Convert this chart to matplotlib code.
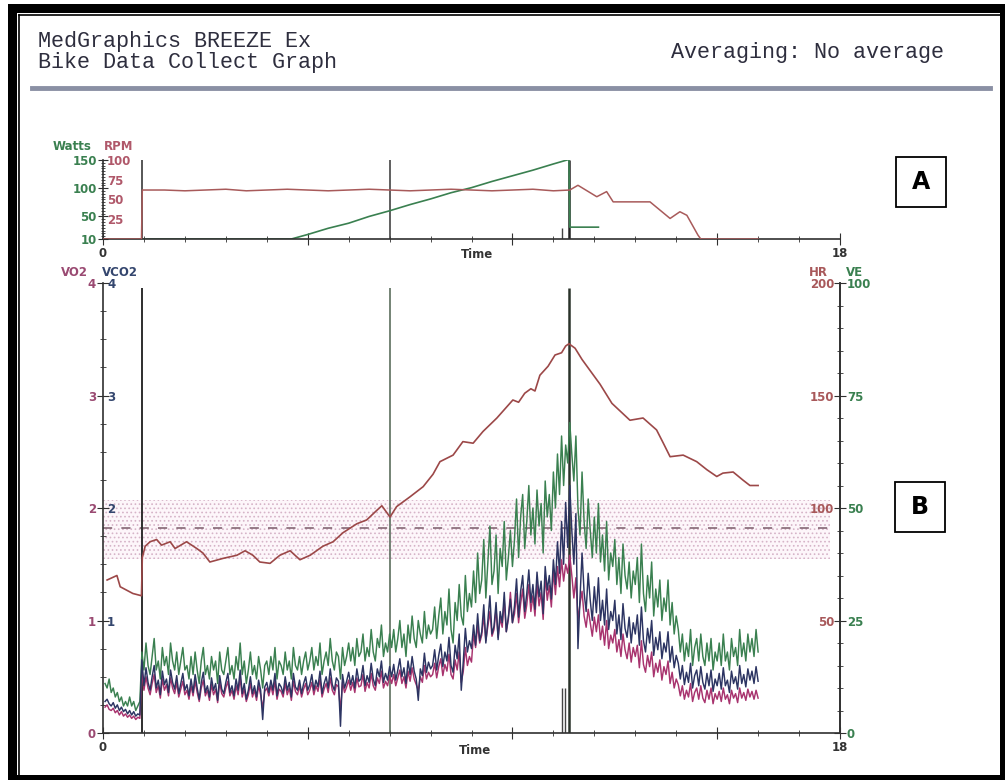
import numpy as np
import matplotlib.pyplot as plt
from matplotlib.patches import Rectangle
from matplotlib.lines import Line2D
from matplotlib.ticker import MultipleLocator

# ---- data ----
# breath-by-breath values, sampled every 0.05 min from 0.05 to 16.0
t_breath = np.round(np.arange(1, 321) * 0.05, 2)

# VE, L/min
ve = [11, 10, 12, 9, 10, 8, 9, 7, 8, 6, 7, 6, 8, 6, 7, 5, 6, 7,
      18, 14, 20, 15, 13, 17, 21, 14, 16, 12, 19, 15, 17, 13, 20, 16, 14, 18, 13, 16, 19, 14,
      15, 12, 17, 13, 18, 14, 11, 16, 19, 13, 15, 12, 17, 14, 16, 11, 18, 14, 13, 16,
      19, 13, 15, 12, 17, 14, 20, 13, 16, 11, 14, 18, 13, 15, 12, 17, 14, 10, 15, 16,
      13, 17, 14, 19, 12, 16, 15, 13, 18, 14, 16, 12, 19, 15, 14, 17, 13, 16, 18, 14,
      16, 19, 14, 17, 15, 20, 13, 16, 18, 15, 21, 16, 14, 18, 17, 12, 19, 15, 17, 20,
      16, 19, 15, 21, 17, 18, 22, 16, 19, 17, 23, 18, 16, 21, 19, 24, 17, 20, 18, 22,
      19, 23, 18, 21, 25, 19, 22, 17, 24, 20, 26, 21, 19, 25, 22, 20, 27, 21, 24, 22,
      23, 28, 21, 26, 30, 22, 27, 24, 32, 23, 20, 29, 25, 33, 26, 24, 35, 27, 31, 28,
      36, 29, 40, 31, 34, 43, 30, 38, 46, 33, 36, 44, 31, 41, 37, 47, 34, 39, 45, 37,
      43, 52, 39, 48, 53, 41, 47, 55, 44, 50, 42, 54, 46, 51, 40, 56, 48, 53, 45, 58,
      50, 62, 53, 66, 55, 64, 60, 69,
      62, 56, 66, 50, 44, 58, 47, 41, 52, 45, 39, 48,
      40, 51, 38, 44, 36, 47, 34, 40, 37, 43, 33, 39, 31, 42, 35, 32, 38, 30, 36, 33,
      39, 29, 42, 31, 27, 35, 30, 38, 26, 32, 28, 34, 25, 30, 27, 34, 24, 29, 22, 26,
      23, 18, 22, 16, 20, 17, 23, 15, 19, 21, 16, 22, 17, 15, 20, 16, 21, 14, 18, 16,
      20, 15, 22, 16, 18, 14, 21, 17, 19, 15, 23, 17, 20, 16, 22, 18, 21, 17, 23, 18]

# VCO2, mL/min
vco2_ml = [280, 300, 260, 240, 270, 220, 250, 200, 230, 190, 210, 170, 200, 160, 190, 150, 170, 160,
           650, 420, 580, 450, 380, 500, 600, 400, 470, 340, 550, 430, 480, 360, 560, 450, 390, 510, 350, 440, 530, 380,
           430, 330, 480, 360, 520, 400, 300, 450, 540, 360, 420, 320, 490, 380, 440, 290, 510, 390, 350, 450,
           530, 360, 420, 330, 480, 380, 560, 350, 440, 300, 380, 500, 350, 420, 320, 470, 380, 120, 410, 450,
           360, 470, 380, 530, 330, 440, 410, 350, 500, 380, 450, 320, 530, 410, 380, 470, 350, 440, 500, 380,
           430, 520, 380, 470, 410, 550, 350, 440, 500, 400, 570, 430, 380, 490, 460, 60, 520, 400, 460, 540,
           430, 510, 400, 570, 460, 480, 600, 420, 510, 450, 620, 480, 420, 570, 500, 640, 450, 530, 470, 590,
           500, 610, 470, 560, 660, 500, 580, 440, 640, 520, 680, 550, 480, 290, 570, 510, 710, 540, 630, 570,
           600, 740, 560, 690, 790, 590, 720, 640, 850, 600, 540, 780, 660, 880, 380, 640, 930, 720, 820, 750,
           960, 780, 1060, 820, 900, 1140, 800, 1000, 1220, 880, 950, 1160, 830, 1080, 980, 1250, 900, 1030, 1190, 980,
           1130, 1370, 1030, 1260, 1400, 1080, 1240, 1450, 1160, 1320, 1100, 1430, 1210, 1350, 1060, 1480, 1270, 1400, 1190, 1540,
           1320, 1700, 1420, 1880, 1500, 2050, 1650, 2200,
           1800, 1500, 1950, 750, 1200, 1600, 1250, 1080, 1420, 1180, 1000, 1300,
           1070, 1380, 1000, 1180, 960, 1280, 920, 1080, 1000, 1180, 880, 1050, 830, 1150, 930, 850, 1030, 800, 980, 880,
           1050, 780, 1120, 820, 720, 930, 800, 1000, 690, 850, 740, 900, 660, 800, 720, 900, 630, 770, 580, 690,
           620, 480, 600, 430, 540, 450, 620, 400, 510, 560, 420, 590, 450, 390, 530, 420, 560, 370, 480, 420,
           530, 390, 580, 420, 470, 360, 550, 440, 500, 390, 600, 440, 520, 410, 570, 470, 550, 440, 590, 460]

# VO2, mL/min
vo2_ml = [230, 250, 210, 200, 220, 180, 200, 160, 190, 150, 170, 140, 160, 130, 150, 120, 140, 130,
          560, 380, 500, 400, 340, 440, 520, 360, 420, 310, 480, 380, 430, 330, 490, 400, 350, 450, 320, 390, 460, 340,
          380, 300, 420, 330, 460, 360, 280, 400, 470, 330, 380, 290, 430, 340, 390, 270, 450, 350, 320, 400,
          460, 330, 380, 300, 420, 340, 490, 320, 390, 280, 340, 440, 320, 380, 290, 420, 340, 220, 370, 400,
          330, 420, 340, 460, 300, 390, 370, 320, 440, 340, 400, 290, 460, 370, 340, 420, 320, 390, 440, 340,
          380, 450, 340, 420, 370, 480, 320, 390, 440, 360, 490, 380, 340, 430, 410, 200, 450, 360, 410, 470,
          380, 450, 360, 490, 410, 420, 520, 370, 450, 400, 530, 420, 380, 490, 440, 550, 400, 460, 420, 510,
          440, 520, 420, 490, 560, 440, 500, 400, 550, 460, 580, 480, 430, 380, 500, 450, 600, 480, 540, 500,
          520, 620, 490, 590, 660, 510, 610, 550, 700, 520, 480, 650, 560, 720, 450, 550, 760, 600, 680, 630,
          880, 760, 960, 800, 870, 1040, 820, 950, 1080, 860, 920, 1100, 850, 1020, 940, 1180, 900, 1010, 1250, 980,
          1060, 1240, 980, 1150, 1280, 1020, 1140, 1320, 1080, 1220, 1040, 1330, 1130, 1250, 1010, 1400, 1180, 1310, 1120, 1440,
          1230, 1480, 1300, 1540, 1350, 1500, 1420, 1580,
          1400, 1200, 1380, 1000, 1150, 1260, 1040, 940, 1100, 980, 860, 1030,
          900, 1050, 830, 950, 780, 1000, 750, 870, 800, 920, 720, 830, 680, 880, 740, 660, 800, 630, 760, 680,
          780, 580, 820, 610, 540, 690, 590, 720, 500, 620, 540, 650, 470, 590, 520, 640, 440, 540, 400, 480,
          430, 330, 420, 300, 380, 320, 440, 280, 360, 400, 300, 420, 310, 270, 380, 300, 400, 260, 350, 300,
          370, 280, 400, 300, 340, 260, 380, 310, 350, 270, 400, 310, 360, 290, 390, 320, 370, 300, 380, 310]

hr_t = [0.10, 0.34, 0.42, 0.73, 0.94, 0.96, 1.03, 1.15, 1.31, 1.43, 1.64, 1.76,
        2.04, 2.29, 2.44, 2.61, 2.93, 3.27, 3.47, 3.66, 3.83, 4.08, 4.32, 4.57,
        4.81, 5.06, 5.37, 5.62, 5.86, 6.20, 6.44, 6.69, 6.81, 7.01, 7.17, 7.50,
        7.82, 8.06, 8.23, 8.55, 8.79, 9.04, 9.28, 9.62, 10.01, 10.15, 10.30, 10.45,
        10.55, 10.67, 10.87, 11.04, 11.20, 11.30, 11.38, 11.53, 11.70, 11.90, 12.14,
        12.43, 12.87, 13.19, 13.52, 13.68, 13.85, 14.17, 14.50, 14.75, 14.99, 15.14,
        15.39, 15.63, 15.80, 16.00]
hr = [68, 70, 65, 62, 61, 78, 83, 85, 86, 83.5, 85, 82,
      85, 82, 80, 76, 77.6, 79, 81, 79, 76, 75.4, 79, 81,
      77, 79, 83, 85, 89, 93, 94.7, 99, 101, 96, 100.6, 105,
      109.5, 115, 120.6, 123.5, 129.5, 128.8, 134, 140, 148, 147, 151, 153,
      152, 159, 163, 168, 169, 172, 173, 171, 166, 161, 155,
      146.5, 139, 140, 134.7, 129, 122.8, 123.5, 120.6, 117, 114, 115.5,
      116, 112.4, 110, 110]

watts_t = [0.0, 4.6, 5.0, 5.5, 6.0, 6.5, 7.0, 7.5, 8.0, 8.5, 9.0, 9.5, 10.0,
           10.5, 11.0, 11.38, 11.40, 12.10]
watts = [10, 10, 18, 29, 38, 50, 60, 71, 81, 92, 101, 112, 122, 132, 143, 151, 31, 31]

rpm_t = [0.0, 0.94, 0.96, 1.5, 2.0, 2.5, 3.0, 3.5, 4.0, 4.5, 5.0, 5.5, 6.0, 6.5,
         7.0, 7.5, 8.0, 8.5, 9.0, 9.5, 10.0, 10.5, 11.0, 11.4, 11.6, 12.06, 12.3,
         12.46, 13.36, 13.5, 13.85, 14.09, 14.26, 14.53, 14.6, 16.0]
rpm = [0, 0, 62, 62, 61, 62, 63, 61, 62, 63, 62, 61, 62, 63,
       62, 61, 62, 63, 62, 61, 62, 63, 61, 62, 68, 53.5, 60,
       47, 47, 41, 26, 34.5, 30, 5, 0, 0]

marker_times = [0.95, 7.0, 11.38]
spike_times = [11.21, 11.28]
band_lo, band_hi, band_mid = 1.55, 2.07, 1.82

vco2 = np.array(vco2_ml) / 1000
vo2 = np.array(vo2_ml) / 1000

# ---- colours ----
c_green = '#3a8050'
c_hr = '#9c4848'
c_co2 = '#2c3462'
c_o2 = '#a8336e'
c_axis = '#303030'

plt.rcParams['font.family'] = 'DejaVu Sans'
plt.rcParams['font.weight'] = 'bold'
plt.rcParams['hatch.linewidth'] = 0.7

W, H = 1005, 780
fig = plt.figure(figsize=(W / 100, H / 100), dpi=100)


def fx(px):
    return px / W


def fy(py):
    return 1 - py / H


# frame around the page (kept behind the axes)
fig.add_artist(Rectangle((fx(8), 0), 1 - fx(8), fy(4), color='black', lw=0, zorder=-3))
fig.add_artist(Rectangle((fx(17), fy(775)), fx(1000) - fx(17), fy(13) - fy(775),
                         color='white', lw=0, zorder=-2))
fig.add_artist(Line2D([fx(19), fx(19)], [fy(15), fy(775)], color='black', lw=1.2, zorder=-1))
fig.add_artist(Line2D([fx(19), fx(1000)], [fy(15), fy(15)], color='black', lw=1.2, zorder=-1))

# header
mono = dict(family='Liberation Mono', color='#2e2e3e', weight='normal', size=15.7)
fig.text(fx(38), fy(47), 'MedGraphics BREEZE Ex', va='baseline', **mono)
fig.text(fx(38), fy(68), 'Bike Data Collect Graph', va='baseline', **mono)
fig.text(fx(944), fy(58), 'Averaging: No average', va='baseline', ha='right', **mono)
fig.add_artist(Line2D([fx(32), fx(990)], [fy(88), fy(88)], color='#8a90a4', lw=3.5))

x0, x1 = fx(103), fx(840)

# ---- panel A: Watts / RPM ----
ax_w = fig.add_axes([x0, fy(239), x1 - x0, fy(160) - fy(239)])
ax_w.set_xlim(0, 18)
ax_w.set_ylim(10, 150)
for s in ['top', 'right']:
    ax_w.spines[s].set_visible(False)
ax_w.vlines(marker_times, 10, 150, colors=['#3a3a3a', '#444', '#222'], lw=[1.2, 1.2, 1.8])
ax_w.vlines([spike_times[0]], 10, 29, colors='#444', lw=1)
ax_w.plot(watts_t, watts, color=c_green, lw=1.2)
ax_w.set_yticks([10, 50, 100, 150])
ax_w.yaxis.set_minor_locator(MultipleLocator(5))
ax_w.tick_params(axis='y', which='major', direction='inout', length=7,
                 labelsize=8.5, labelcolor=c_green, color=c_axis, pad=1)
ax_w.tick_params(axis='y', which='minor', direction='inout', length=3, color=c_axis)

ax_r = ax_w.twinx()
ax_r.set_ylim(0, 100)
for s in ['top', 'left', 'bottom']:
    ax_r.spines[s].set_visible(False)
ax_r.spines['right'].set_position(('axes', 0))
ax_r.spines['right'].set_visible(False)
ax_r.plot(rpm_t, rpm, color='#a85a5a', lw=1.1)
ax_r.set_yticks([25, 50, 75, 100])
ax_r.tick_params(axis='y', length=0, labelsize=8.5, labelcolor='#b0586a', pad=3)

# ---- panel B: gas exchange / HR ----
ax_b = fig.add_axes([x0, fy(733), x1 - x0, fy(283) - fy(733)])
ax_b.set_xlim(0, 18)
ax_b.set_ylim(0, 4)
ax_b.spines['top'].set_visible(False)
ax_b.axhspan(band_lo, band_hi, xmin=0, xmax=17.75 / 18, facecolor='#fdf6fa',
             edgecolor='#d6b4c8', hatch='....', lw=0)
ax_b.hlines(band_mid, 0, 17.75, colors='#7a5a68', lw=1.1, linestyles=(0, (6, 6)))
ax_b.vlines(marker_times, 0, 3.96, colors=['#2e2e2e', '#5c6e5e', '#2a332a'], lw=[1.4, 1.2, 1.8])
ax_b.vlines(spike_times, 0, 0.4, colors='#444', lw=1)
ax_b.plot(t_breath, vo2, color=c_o2, lw=1.05)
ax_b.set_yticks([0, 1, 2, 3, 4])
ax_b.yaxis.set_minor_locator(MultipleLocator(0.25))
ax_b.tick_params(axis='y', which='major', direction='inout', length=8,
                 labelsize=8.5, labelcolor='#9a4a72', color=c_axis, pad=1)
ax_b.tick_params(axis='y', which='minor', direction='inout', length=4, color=c_axis)

ax_ve = ax_b.twinx()
ax_ve.set_ylim(0, 100)
for s in ['top', 'left', 'bottom']:
    ax_ve.spines[s].set_visible(False)
ax_ve.plot(t_breath, ve, color=c_green, lw=1.05)
ax_ve.set_yticks([0, 25, 50, 75, 100])
ax_ve.yaxis.set_minor_locator(MultipleLocator(5))
ax_ve.tick_params(axis='y', which='major', direction='inout', length=8,
                  labelsize=8.5, labelcolor=c_green, color=c_axis, pad=1)
ax_ve.tick_params(axis='y', which='minor', direction='inout', length=4, color=c_axis)

ax_hr = ax_b.twinx()
ax_hr.set_ylim(0, 200)
for s in ['top', 'right', 'bottom', 'left']:
    ax_hr.spines[s].set_visible(False)
ax_hr.yaxis.tick_left()
ax_hr.spines['left'].set_position(('axes', 1))
ax_hr.plot(hr_t, hr, color=c_hr, lw=1.2)
ax_hr.set_yticks([50, 100, 150, 200])
ax_hr.tick_params(axis='y', length=0, labelsize=8.5, labelcolor='#a8585a', pad=4)

ax_c = ax_b.twinx()
ax_c.set_ylim(0, 4)
for s in ['top', 'left', 'bottom', 'right']:
    ax_c.spines[s].set_visible(False)
ax_c.spines['right'].set_position(('axes', 0))
ax_c.plot(t_breath, vco2, color=c_co2, lw=1.05)
ax_c.set_yticks([1, 2, 3, 4])
ax_c.tick_params(axis='y', length=0, labelsize=8.5, labelcolor='#34466e', pad=3)

# shared x-axis styling
for ax in [ax_w, ax_b]:
    ax.set_xticks([0, 5, 10, 15, 18])
    ax.set_xticklabels(['0', '', '', '', '18'])
    ax.xaxis.set_minor_locator(MultipleLocator(1))
    ax.tick_params(axis='x', which='major', direction='inout', length=8,
                   labelsize=8.5, color=c_axis, labelcolor='#333', pad=2)
    ax.tick_params(axis='x', which='minor', direction='inout', length=4, color=c_axis)
    for s in ['left', 'bottom', 'right']:
        ax.spines[s].set_color(c_axis)
        ax.spines[s].set_linewidth(1.2)
ax_ve.spines['right'].set_color(c_axis)
ax_ve.spines['right'].set_linewidth(1.2)

# axis titles
small = dict(size=8.5, weight='bold')
fig.text(fx(92), fy(147), 'Watts', ha='right', va='center', color=c_green, **small)
fig.text(fx(104), fy(147), 'RPM', ha='left', va='center', color='#b0586a', **small)
fig.text(fx(477), fy(254), 'Time', ha='center', va='center', color='#333', **small)
fig.text(fx(88), fy(272), 'VO2', ha='right', va='center', color='#9a4a72', **small)
fig.text(fx(102), fy(272), 'VCO2', ha='left', va='center', color='#34466e', **small)
fig.text(fx(828), fy(273), 'HR', ha='right', va='center', color='#a8585a', **small)
fig.text(fx(846), fy(273), 'VE', ha='left', va='center', color=c_green, **small)
fig.text(fx(475), fy(750), 'Time', ha='center', va='center', color='#333', **small)

# panel tags
for tag, cx, cy in [('A', 921, 182), ('B', 920, 507)]:
    fig.add_artist(Rectangle((fx(cx - 25), fy(cy + 25)), 50 / W, 50 / H,
                             fill=False, ec='black', lw=1.3))
    fig.text(fx(cx), fy(cy), tag, ha='center', va='center', size=17,
             weight='heavy', color='black')

fig.savefig('out.png', dpi=100, facecolor='white')
